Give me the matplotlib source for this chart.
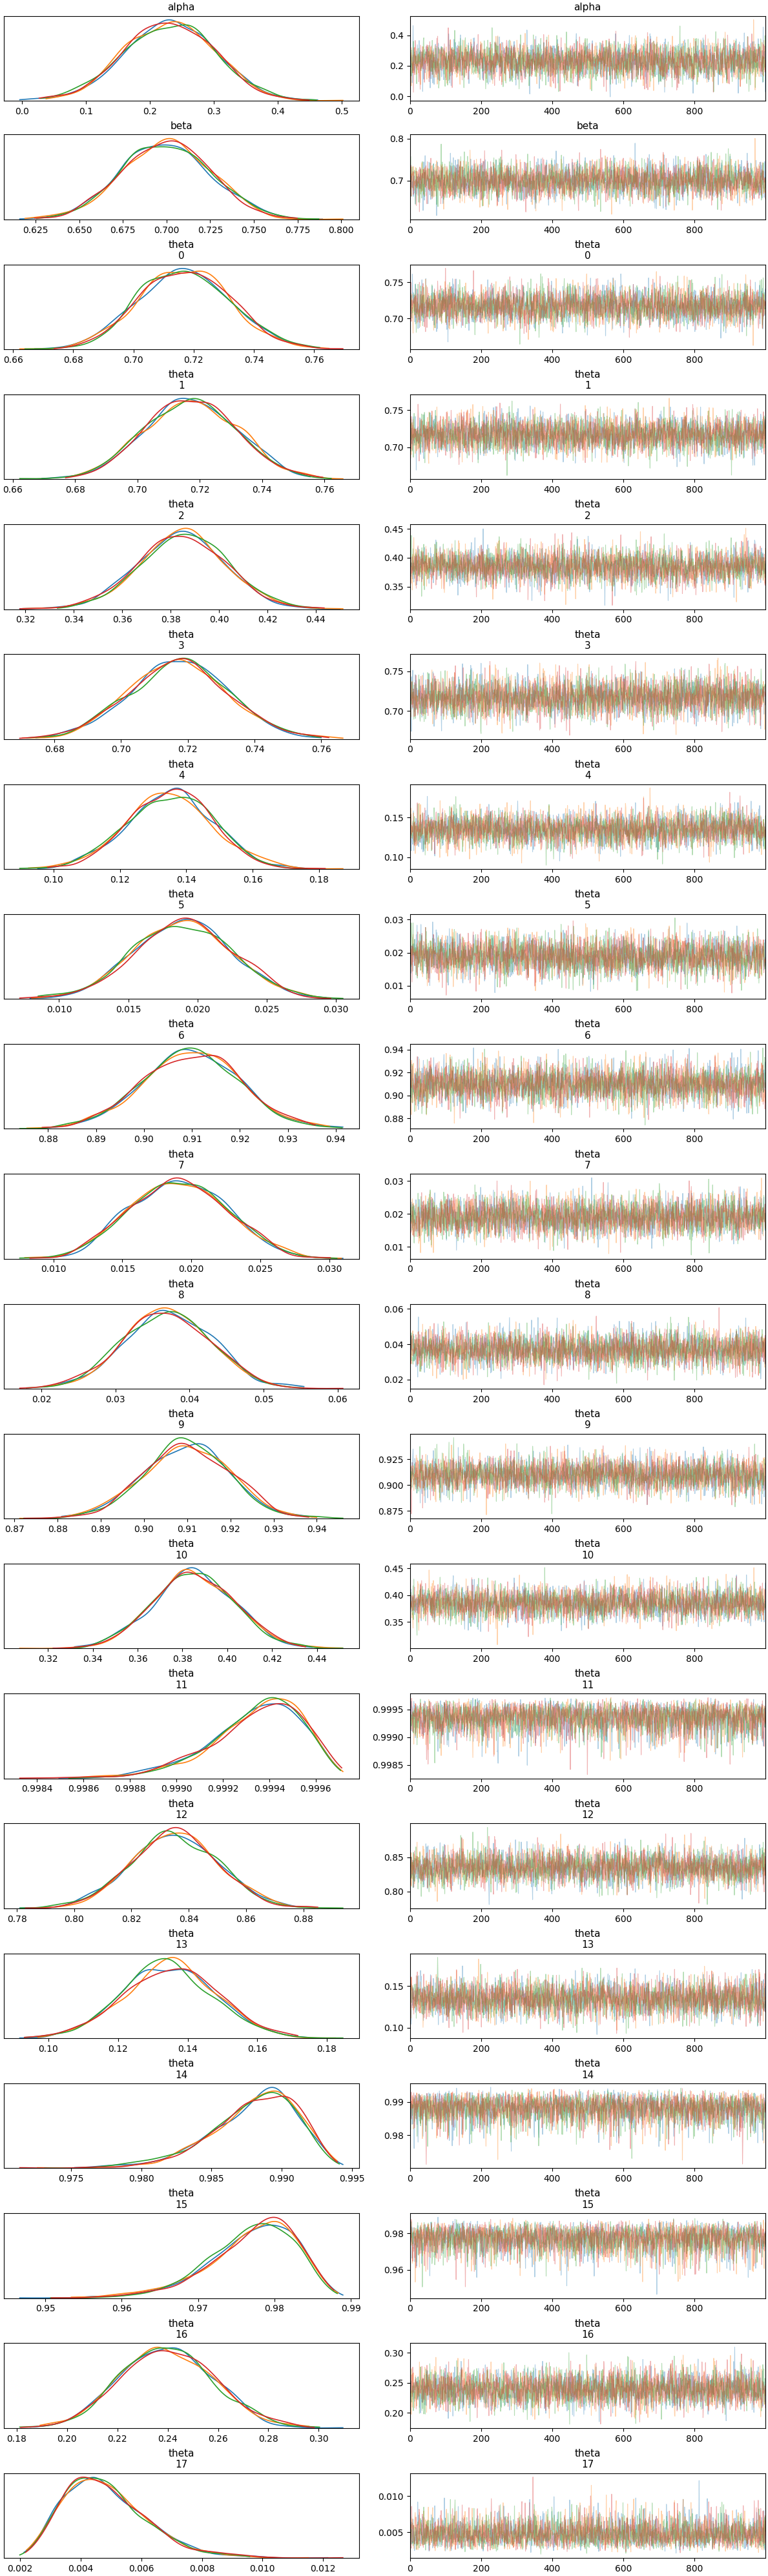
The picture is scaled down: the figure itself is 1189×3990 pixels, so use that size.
import numpy as np
import matplotlib
matplotlib.use("Agg")
import matplotlib.pyplot as plt

# Posterior summary per variable.
# kind: "n" = normal(loc, scale); "+" = loc + gamma(shape, scale); "-" = loc - gamma(shape, scale)
var_names = ["alpha", "beta"] + [f"theta\n{i}" for i in range(18)]
kinds = ["n", "n"] + ["n"] * 11 + ["-", "n", "n", "-", "-", "n", "+"]
locs = [0.23, 0.70, 0.717, 0.717, 0.385, 0.717, 0.135, 0.019, 0.91, 0.019, 0.037,
        0.91, 0.385, 0.99975, 0.835, 0.135, 0.995, 0.99, 0.24, 0.0015]
scales = [0.07, 0.025, 0.015, 0.015, 0.018, 0.015, 0.013, 0.0035, 0.01, 0.0035, 0.006,
          0.01, 0.018, 0.0001, 0.015, 0.013, 0.0014, 0.0026, 0.018, 0.00055]
shapes = [0] * 13 + [4, 0, 0, 5, 5, 0, 6]
n_chains, n_draws = 4, 1000
colors = ["C0", "C1", "C2", "C3"]

# stand-in draws (the raw MCMC samples cannot be read off the picture)
rng = np.random.default_rng(3)


def draws(k, loc, sc, sh):
    if k == "n":
        return rng.normal(loc, sc, (n_chains, n_draws))
    g = rng.gamma(sh, sc, (n_chains, n_draws))
    return loc + g if k == "+" else loc - g


def kde(x):
    bw = 1.06 * x.std() * len(x) ** -0.2
    grid = np.linspace(x.min(), x.max(), 300)
    d = np.exp(-0.5 * ((grid[:, None] - x[None, :]) / bw) ** 2).sum(1)
    return grid, d / (len(x) * bw * np.sqrt(2 * np.pi))


fig, axes = plt.subplots(len(var_names), 2, figsize=(11.89, 39.9), dpi=100,
                         layout="constrained")
for row, name in enumerate(var_names):
    s = draws(kinds[row], locs[row], scales[row], shapes[row])
    axk, axt = axes[row]
    for c in range(n_chains):
        g, d = kde(s[c])
        axk.plot(g, d, color=colors[c], lw=1.2)
        axt.plot(np.arange(n_draws), s[c], color=colors[c], lw=0.8, alpha=0.35)
    axk.set_yticks([])
    axk.set_ylim(bottom=0)
    axk.set_title(name, fontsize=11)
    axt.set_title(name, fontsize=11)
    axt.set_xlim(0, n_draws - 1)
    axt.set_xticks(range(0, 1000, 200))

fig.savefig("out.png", dpi=100)
